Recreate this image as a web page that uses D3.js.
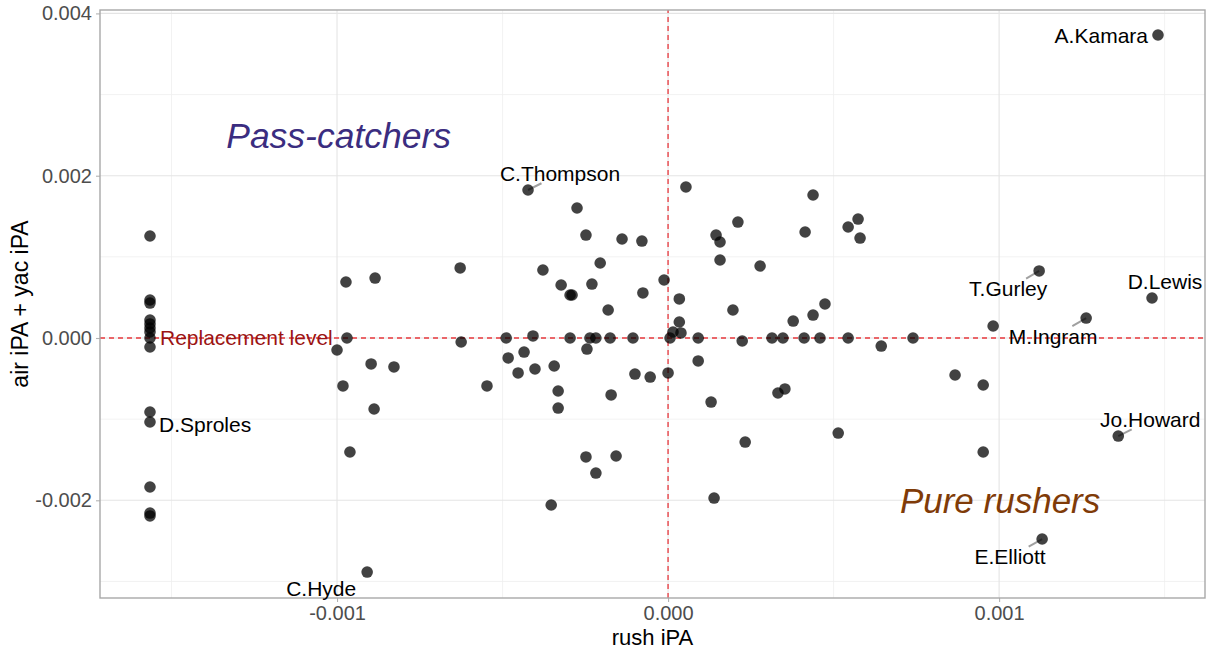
<!DOCTYPE html>
<html>
<head>
<meta charset="utf-8">
<script src="https://cdn.jsdelivr.net/npm/d3@7"></script>
<style>
  html, body { margin: 0; padding: 0; background: #fff; }
  svg { display: block; font-family: "Liberation Sans", Arial, Helvetica, sans-serif; }
</style>
</head>
<body>
<div id="chart"></div>
<script>
// ---- data (rush iPA, air iPA + yac iPA) ----
const players = [
  "A.Kamara","C.Thompson","T.Gurley","D.Lewis","M.Ingram","Jo.Howard","E.Elliott","C.Hyde","D.Sproles"
];
const rushIPA = [
  0.001480, -0.000423, 0.001121, 0.001462, 0.001263, 0.001360, 0.001130, -0.000909, -0.001565,
  -0.001565, -0.001565, -0.001565, -0.001565, -0.001565, -0.001565, -0.001565, -0.001565, -0.001565, -0.001565, -0.001565, -0.001565, -0.001565,
  -0.000973, -0.000885, -0.000970, -0.001000, -0.000982, -0.000897, -0.000828, -0.000888, -0.000961,
  -0.000628, -0.000625, -0.000547, -0.000489, -0.000483, -0.000453, -0.000435, -0.000402, -0.000408, -0.000378,
  -0.000353, -0.000344, -0.000332, -0.000332, -0.000323, -0.000296, -0.000290, -0.000296, -0.000275, -0.000248,
  -0.000248, -0.000245, -0.000236, -0.000218, -0.000230, -0.000218, -0.000205, -0.000181, -0.000175, -0.000172,
  -0.000157, -0.000139, -0.000106, -0.000100, -0.000079, -0.000076, -0.000054, -0.000012, 0.000000, 0.000006,
  0.000015, 0.000039, 0.000034, 0.000034, 0.000054, 0.000091, 0.000091, 0.000130, 0.000139, 0.000145,
  0.000157, 0.000157, 0.000196, 0.000211, 0.000224, 0.000233, 0.000278, 0.000314, 0.000347, 0.000332,
  0.000353, 0.000378, 0.000411, 0.000414, 0.000438, 0.000438, 0.000459, 0.000474, 0.000514, 0.000544,
  0.000544, 0.000574, 0.000580, 0.000644, 0.000740, 0.000867, 0.000952, 0.000952, 0.000982
];
const airYacIPA = [
  0.003734, 0.001824, 0.000826, 0.000493, 0.000246, -0.001208, -0.002477, -0.002884, -0.001035,
  0.001257, 0.000468, 0.000431, 0.000222, 0.000173, 0.000123, 0.000074, 0.000000, -0.000111, -0.000912, -0.001836, -0.002157, -0.002193,
  0.000690, 0.000739, 0.000000, -0.000148, -0.000591, -0.000320, -0.000357, -0.000875, -0.001405,
  0.000863, -0.000049, -0.000591, 0.000000, -0.000246, -0.000431, -0.000173, -0.000382, 0.000025, 0.000838,
  -0.002058, -0.000345, -0.000653, -0.000863, 0.000653, 0.000530, 0.000530, 0.000000, 0.001602, 0.001269,
  -0.001466, -0.000136, 0.000000, 0.000000, 0.000665, -0.001664, 0.000924, 0.000345, 0.000000, -0.000702,
  -0.001454, 0.001220, 0.000000, -0.000444, 0.001195, 0.000555, -0.000481, 0.000715, -0.000431, 0.000000,
  0.000074, 0.000062, 0.000481, 0.000197, 0.001861, 0.000000, -0.000283, -0.000789, -0.001972, 0.001269,
  0.001183, 0.000961, 0.000345, 0.001429, -0.000037, -0.001282, 0.000887, 0.000000, 0.000000, -0.000678,
  -0.000628, 0.000209, 0.000000, 0.001306, 0.001762, 0.000283, 0.000000, 0.000419, -0.001171, 0.001368,
  0.000000, 0.001466, 0.001232, -0.000099, 0.000000, -0.000456, -0.000579, -0.001405, 0.000148
];
const xTicks = [-0.001, 0, 0.001];
const yTicks = [-0.002, 0, 0.002, 0.004];
const xMinor = [-0.0015, -0.0005, 0.0005, 0.0015];
const yMinor = [-0.003, -0.001, 0.001, 0.003];
const xTitle = "rush iPA";
const yTitle = "air iPA + yac iPA";
const replacementX = -0.001565;
const replacementText = "Replacement level";
const quadrantLabels = ["Pass-catchers", "Pure rushers"];
const quadrantPos = [[-0.000995, 0.002500], [0.001003, -0.002000]];

// label placement (pixel offsets from point, repel-style)
const labelOffsets = {
  "A.Kamara":   { dx: -10, dy: 1,  anchor: "end",    seg: false },
  "C.Thompson": { dx: 32,  dy: -16, anchor: "middle", seg: true },
  "T.Gurley":   { dx: -31, dy: 18, anchor: "middle", seg: true },
  "D.Lewis":    { dx: 13,  dy: -16, anchor: "middle", seg: false },
  "M.Ingram":   { dx: -33, dy: 19, anchor: "middle", seg: true },
  "Jo.Howard":  { dx: 32,  dy: -16, anchor: "middle", seg: true },
  "E.Elliott":  { dx: -32, dy: 18, anchor: "middle", seg: true },
  "C.Hyde":     { dx: -46, dy: 17, anchor: "middle", seg: false },
  "D.Sproles":  { dx: 9,   dy: 3,  anchor: "start",  seg: false }
};

const W = 1207, H = 651;
const M = { left: 100, right: 2, top: 10, bottom: 53 };
const svg = d3.select("#chart").append("svg").attr("width", W).attr("height", H);

const x = d3.scaleLinear().domain([-0.001716, 0.001622]).range([M.left, W - M.right]);
const y = d3.scaleLinear().domain([-0.003204, 0.004042]).range([H - M.bottom, M.top]);

const data = rushIPA.map((r, i) => ({ name: players[i] || "", x: r, y: airYacIPA[i] }));

// grid
const g = svg.append("g");
g.selectAll(".xminor").data(xMinor).join("line")
  .attr("x1", d => x(d)).attr("x2", d => x(d)).attr("y1", y.range()[0]).attr("y2", y.range()[1])
  .attr("stroke", "#efefef").attr("stroke-width", 0.8);
g.selectAll(".yminor").data(yMinor).join("line")
  .attr("y1", d => y(d)).attr("y2", d => y(d)).attr("x1", x.range()[0]).attr("x2", x.range()[1])
  .attr("stroke", "#efefef").attr("stroke-width", 0.8);
g.selectAll(".xmajor").data(xTicks).join("line")
  .attr("x1", d => x(d)).attr("x2", d => x(d)).attr("y1", y.range()[0]).attr("y2", y.range()[1])
  .attr("stroke", "#e4e4e4").attr("stroke-width", 1.1);
g.selectAll(".ymajor").data(yTicks).join("line")
  .attr("y1", d => y(d)).attr("y2", d => y(d)).attr("x1", x.range()[0]).attr("x2", x.range()[1])
  .attr("stroke", "#e4e4e4").attr("stroke-width", 1.1);

// reference lines
svg.append("line").attr("x1", x(0)).attr("x2", x(0)).attr("y1", y.range()[0]).attr("y2", y.range()[1])
  .attr("stroke", "#e8383d").attr("stroke-width", 1.3).attr("stroke-dasharray", "5,4");
svg.append("line").attr("y1", y(0)).attr("y2", y(0)).attr("x1", x.range()[0]).attr("x2", x.range()[1])
  .attr("stroke", "#e8383d").attr("stroke-width", 1.3).attr("stroke-dasharray", "5,4");

// axes
const fmt = d => d3.format(".3f")(d).replace("\u2212", "-");
const xAxis = svg.append("g").attr("transform", `translate(0,${y.range()[0]})`)
  .call(d3.axisBottom(x).tickValues(xTicks).tickSize(4).tickPadding(4).tickFormat(fmt));
const yAxis = svg.append("g").attr("transform", `translate(${x.range()[0]},0)`)
  .call(d3.axisLeft(y).tickValues(yTicks).tickSize(4).tickPadding(4).tickFormat(fmt));
[xAxis, yAxis].forEach(a => {
  a.select(".domain").remove();
  a.selectAll(".tick line").attr("stroke", "#b3b3b3").attr("stroke-width", 1.1);
  a.selectAll(".tick text").attr("fill", "#4d4d4d").style("font-size", "20px")
    .style("font-family", "'Liberation Sans', Arial, sans-serif");
});

// panel border
svg.append("rect").attr("x", x.range()[0]).attr("y", y.range()[1])
  .attr("width", x.range()[1] - x.range()[0]).attr("height", y.range()[0] - y.range()[1])
  .attr("fill", "none").attr("stroke", "#a8a8a8").attr("stroke-width", 1.4);

// replacement level text
svg.append("text").attr("x", x(replacementX) + 10).attr("y", y(0)).attr("dy", "0.35em")
  .attr("fill", "#9b1414").style("font-size", "21px").text(replacementText);

// quadrant labels
svg.append("text").attr("x", x(quadrantPos[0][0])).attr("y", y(quadrantPos[0][1])).attr("dy", "0.35em")
  .attr("text-anchor", "middle").attr("fill", "#3b2d80").style("font-size", "35.5px").style("font-style", "italic")
  .text(quadrantLabels[0]);
svg.append("text").attr("x", x(quadrantPos[1][0])).attr("y", y(quadrantPos[1][1])).attr("dy", "0.35em")
  .attr("text-anchor", "middle").attr("fill", "#7f3b08").style("font-size", "35px").style("font-style", "italic")
  .text(quadrantLabels[1]);

// label segments
const labeled = data.filter(d => d.name && labelOffsets[d.name]);
svg.selectAll(".seg").data(labeled.filter(d => labelOffsets[d.name].seg)).join("line")
  .attr("x1", d => x(d.x)).attr("y1", d => y(d.y))
  .attr("x2", d => x(d.x) + 0.42 * labelOffsets[d.name].dx)
  .attr("y2", d => y(d.y) + 0.42 * labelOffsets[d.name].dy)
  .attr("stroke", "#a0a0a0").attr("stroke-width", 2);

// points
svg.selectAll(".pt").data(data).join("circle")
  .attr("cx", d => x(d.x)).attr("cy", d => y(d.y)).attr("r", 5.8)
  .attr("fill", "#000").attr("fill-opacity", 0.74);

// labels
svg.selectAll(".lbl").data(labeled).join("text")
  .attr("x", d => x(d.x) + labelOffsets[d.name].dx)
  .attr("y", d => y(d.y) + labelOffsets[d.name].dy)
  .attr("dy", "0.35em")
  .attr("text-anchor", d => labelOffsets[d.name].anchor)
  .attr("fill", "#000").style("font-size", "21px")
  .text(d => d.name);

// axis titles
svg.append("text").attr("x", (x.range()[0] + x.range()[1]) / 2).attr("y", 645)
  .attr("text-anchor", "middle").attr("fill", "#000").style("font-size", "22px").text(xTitle);
svg.append("text").attr("transform", `translate(28,${(y.range()[0] + y.range()[1]) / 2}) rotate(-90)`)
  .attr("text-anchor", "middle").attr("fill", "#000").style("font-size", "23px").text(yTitle);
</script>
</body>
</html>
